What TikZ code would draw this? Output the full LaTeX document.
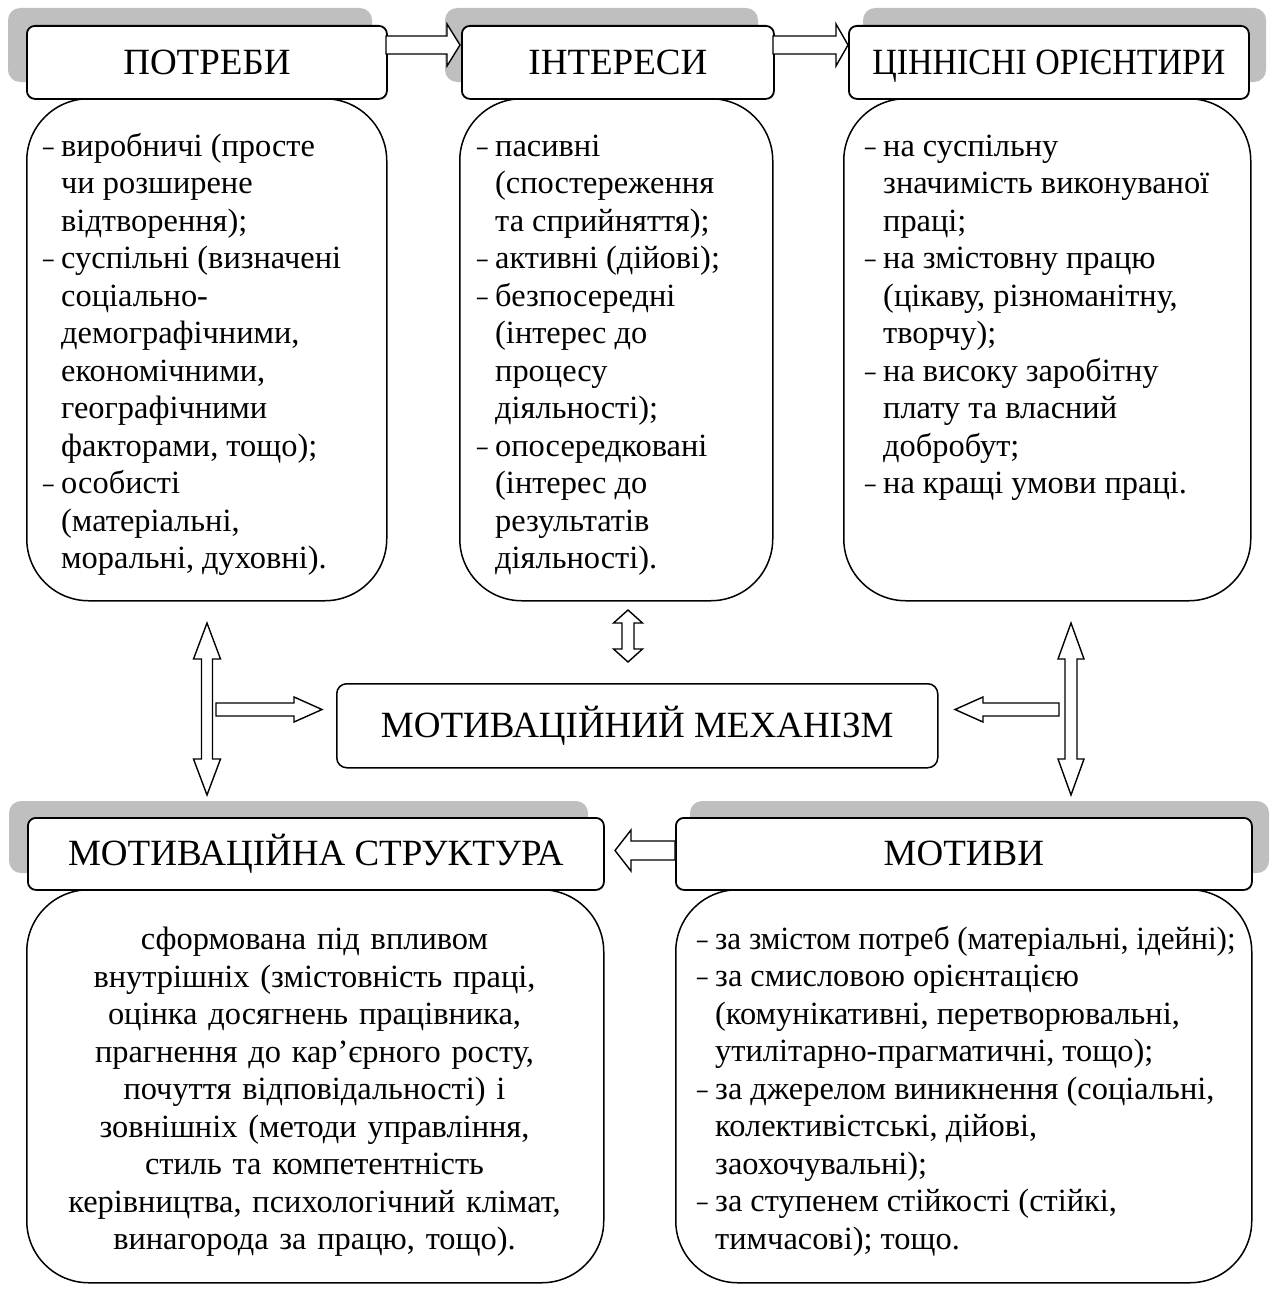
\documentclass[tikz,border=0pt]{standalone}
\usepackage{fontspec}
\setmainfont{Liberation Serif}
\definecolor{shadowgray}{RGB}{191,191,191}
\newcommand\dsh{\makebox[18pt][l]{\scalebox{0.65}[1]{–}}}
% horizontal block arrow: tail x, head base x, tip x, centre y, shaft half, head half
\newcommand\harr[6]{\draw[blockarrow] ({#1},{#4-#5}) -- ({#2},{#4-#5}) -- ({#2},{#4-#6}) -- ({#3},{#4}) -- ({#2},{#4+#6}) -- ({#2},{#4+#5}) -- ({#1},{#4+#5}) -- cycle;}
% vertical double block arrow: centre x, top, bottom, shaft half, head half, head length
\newcommand\vdarr[6]{\draw[blockarrow] ({#1},{#2}) -- ({#1+#5},{#2+#6}) -- ({#1+#4},{#2+#6}) -- ({#1+#4},{#3-#6}) -- ({#1+#5},{#3-#6}) -- ({#1},{#3}) -- ({#1-#5},{#3-#6}) -- ({#1-#4},{#3-#6}) -- ({#1-#4},{#2+#6}) -- ({#1-#5},{#2+#6}) -- cycle;}
\begin{document}
\begin{tikzpicture}[x=1pt,y=-1pt,
  shadowbox/.style={fill=shadowgray, rounded corners=12pt},
  hdrbox/.style={draw, line width=1.8pt, fill=white, rounded corners=8pt, inner sep=0pt, anchor=north west, font=\fontsize{37}{44}\selectfont},
  contbox/.style={draw, line width=1.5pt, fill=white, rounded corners=62pt, inner sep=0pt, anchor=north west},
  bodytext/.style={font=\fontsize{32.4}{37.5}\selectfont, inner sep=0pt, anchor=north west},
  blockarrow/.style={draw, fill=white, line width=1.4pt, line join=miter}]
\useasboundingbox (0,0) rectangle (1272,1290);

% shadows
\fill[shadowbox] (8,8) rectangle (372,82);
\fill[shadowbox] (445,8) rectangle (758,82);
\fill[shadowbox] (863,8) rectangle (1266,82);
\fill[shadowbox] (9,801) rectangle (588,873);
\fill[shadowbox] (690,801) rectangle (1269,873);

% content boxes
\node[contbox, minimum width=360pt, minimum height=502pt] (potrC) at (26,98) {};
\node[contbox, minimum width=313pt, minimum height=502pt] (interC) at (459,98) {};
\node[contbox, minimum width=407pt, minimum height=502pt] (cinnC) at (843,98) {};
\node[contbox, minimum width=577pt, minimum height=393pt] (structC) at (26,889) {};
\node[contbox, minimum width=576pt, minimum height=393pt] (motC) at (675,889) {};

% headers
\node[hdrbox, minimum width=360pt, minimum height=73pt] (potr) at (26,25) {ПОТРЕБИ};
\node[hdrbox, minimum width=312pt, minimum height=73pt] (inter) at (461,25) {ІНТЕРЕСИ};
\node[hdrbox, minimum width=400pt, minimum height=73pt, text depth=0pt] (cinn) at (848,25) {\scalebox{0.917}[1]{ЦІННІСНІ ОРІЄНТИРИ}};
\node[hdrbox, minimum width=576pt, minimum height=72pt] (struct) at (27,817) {МОТИВАЦІЙНА СТРУКТУРА};
\node[hdrbox, minimum width=576pt, minimum height=72pt] (mot) at (675,817) {МОТИВИ};
\node[hdrbox, line width=1.5pt, rounded corners=10pt, minimum width=601pt, minimum height=84pt] (mech) at (336,683) {МОТИВАЦІЙНИЙ МЕХАНІЗМ};

% body texts
\node[bodytext] (potrT) at (43,130) {\begin{tabular}{@{}l@{}l@{}}
\dsh & виробничі (просте\\ & чи розширене\\ & відтворення);\\
\dsh & суспільні (визначені\\ & соціально-\\ & демографічними,\\ & економічними,\\ & географічними\\ & факторами, тощо);\\
\dsh & особисті\\ & (матеріальні,\\ & моральні, духовні).
\end{tabular}};
\node[bodytext] (interT) at (477,130) {\begin{tabular}{@{}l@{}l@{}}
\dsh & пасивні\\ & (спостереження\\ & та сприйняття);\\
\dsh & активні (дійові);\\
\dsh & безпосередні\\ & (інтерес до\\ & процесу\\ & діяльності);\\
\dsh & опосередковані\\ & (інтерес до\\ & результатів\\ & діяльності).
\end{tabular}};
\node[bodytext] (cinnT) at (865,130) {\begin{tabular}{@{}l@{}l@{}}
\dsh & на суспільну\\ & значимість виконуваної\\ & праці;\\
\dsh & на змістовну працю\\ & (цікаву, різноманітну,\\ & творчу);\\
\dsh & на високу заробітну\\ & плату та власний\\ & добробут;\\
\dsh & на кращі умови праці.
\end{tabular}};
\node[bodytext, align=center, anchor=north, text width=570pt] (structT) at (314.5,927) {сформована під впливом\\внутрішніх (змістовність праці,\\оцінка досягнень працівника,\\прагнення до кар’єрного росту,\\почуття відповідальності) і\\зовнішніх (методи управління,\\стиль та компетентність\\керівництва, психологічний клімат,\\винагорода за працю, тощо).};
\node[bodytext] (motT) at (697,923) {\begin{tabular}{@{}l@{}l@{}}
\dsh & \scalebox{0.96}[1]{за змістом потреб (матеріальні, ідейні);}\\
\dsh & за смисловою орієнтацією\\ & (комунікативні, перетворювальні,\\ & утилітарно-прагматичні, тощо);\\
\dsh & за джерелом виникнення (соціальні,\\ & колективістські, дійові,\\ & заохочувальні);\\
\dsh & за ступенем стійкості (стійкі,\\ & тимчасові); тощо.
\end{tabular}};

% block arrows
\harr{386}{447}{460}{45}{9}{21}
\harr{773}{836}{848}{45}{9}{21}
\harr{216}{294}{322}{709.5}{6.5}{12.5}
\harr{1059}{983}{955}{709.5}{6.5}{12.5}
\harr{675}{631}{615}{850.5}{9.5}{20.5}
\vdarr{207}{623}{795}{5.5}{13.5}{36}
\vdarr{628}{610}{662}{6}{14.5}{13}
\vdarr{1071}{623}{795}{6}{13}{36}
\end{tikzpicture}
\end{document}
